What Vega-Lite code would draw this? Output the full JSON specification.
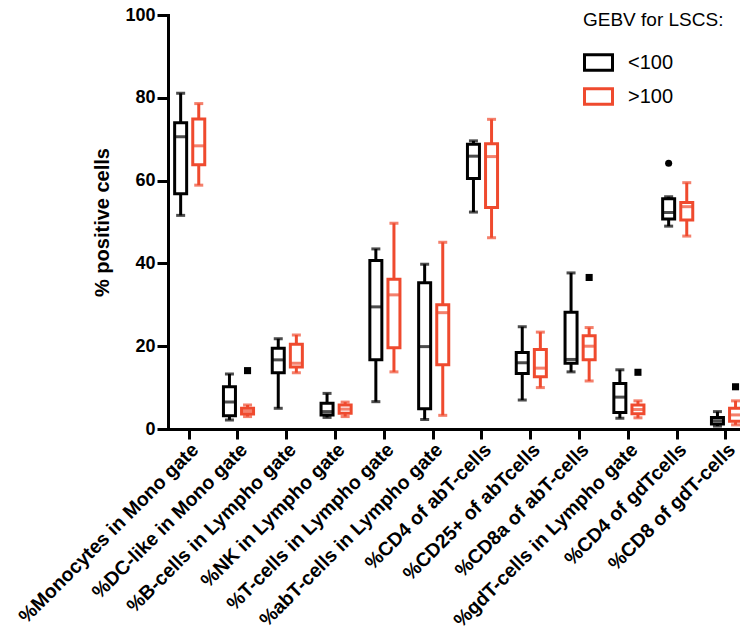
{
  "$schema": "https://vega.github.io/schema/vega-lite/v6.json",
  "autosize": {"type": "none"},
  "width": 572,
  "height": 414,
  "padding": {"left": 168, "top": 15, "right": 0, "bottom": 207},
  "config": {"view": {"stroke": null}, "font": "Liberation Sans"},
  "datasets": {
    "boxes": [
      {"cat": "%Monocytes in Mono gate", "group": "<100", "low": 51.6, "q1": 56.8, "med": 70.6, "q3": 74.0, "high": 81.1},
      {"cat": "%Monocytes in Mono gate", "group": ">100", "low": 58.9, "q1": 63.8, "med": 68.4, "q3": 74.9, "high": 78.6},
      {"cat": "%DC-like in Mono gate", "group": "<100", "low": 2.2, "q1": 3.2, "med": 6.5, "q3": 10.2, "high": 13.3},
      {"cat": "%DC-like in Mono gate", "group": ">100", "low": 3.0, "q1": 3.6, "med": 4.3, "q3": 5.0, "high": 5.8},
      {"cat": "%B-cells in Lympho gate", "group": "<100", "low": 5.0, "q1": 13.6, "med": 16.7, "q3": 19.5, "high": 21.8},
      {"cat": "%B-cells in Lympho gate", "group": ">100", "low": 13.6, "q1": 15.0, "med": 15.9, "q3": 20.5, "high": 22.7},
      {"cat": "%NK in Lympho gate", "group": "<100", "low": 2.8, "q1": 3.4, "med": 4.2, "q3": 6.2, "high": 8.6},
      {"cat": "%NK in Lympho gate", "group": ">100", "low": 3.0, "q1": 3.8, "med": 4.8, "q3": 5.8, "high": 6.5},
      {"cat": "%T-cells in Lympho gate", "group": "<100", "low": 6.6, "q1": 16.7, "med": 29.5, "q3": 40.7, "high": 43.5},
      {"cat": "%T-cells in Lympho gate", "group": ">100", "low": 13.8, "q1": 19.6, "med": 32.4, "q3": 36.2, "high": 49.7},
      {"cat": "%abT-cells in Lympho gate", "group": "<100", "low": 2.3, "q1": 4.9, "med": 19.9, "q3": 35.3, "high": 39.8},
      {"cat": "%abT-cells in Lympho gate", "group": ">100", "low": 3.3, "q1": 15.5, "med": 28.1, "q3": 30.0, "high": 45.1},
      {"cat": "%CD4 of abT-cells", "group": "<100", "low": 52.4, "q1": 60.5, "med": 65.9, "q3": 68.8, "high": 69.6},
      {"cat": "%CD4 of abT-cells", "group": ">100", "low": 46.2, "q1": 53.5, "med": 65.8, "q3": 68.9, "high": 74.8},
      {"cat": "%CD25+ of abTcells", "group": "<100", "low": 7.0, "q1": 13.4, "med": 16.0, "q3": 18.5, "high": 24.7},
      {"cat": "%CD25+ of abTcells", "group": ">100", "low": 10.0, "q1": 12.6, "med": 14.7, "q3": 19.2, "high": 23.4},
      {"cat": "%CD8a of abT-cells", "group": "<100", "low": 13.8, "q1": 15.9, "med": 16.8, "q3": 28.2, "high": 37.7},
      {"cat": "%CD8a of abT-cells", "group": ">100", "low": 11.6, "q1": 16.7, "med": 20.0, "q3": 22.5, "high": 24.5},
      {"cat": "%gdT-cells in Lympho gate", "group": "<100", "low": 2.6, "q1": 4.0, "med": 7.7, "q3": 11.0, "high": 14.3},
      {"cat": "%gdT-cells in Lympho gate", "group": ">100", "low": 2.7, "q1": 3.7, "med": 4.7, "q3": 5.8, "high": 6.8},
      {"cat": "%CD4 of gdTcells", "group": "<100", "low": 49.0, "q1": 50.7, "med": 52.3, "q3": 55.6, "high": 56.1},
      {"cat": "%CD4 of gdTcells", "group": ">100", "low": 46.6, "q1": 50.5, "med": 53.7, "q3": 54.7, "high": 59.5},
      {"cat": "%CD8 of gdT-cells", "group": "<100", "low": 0.7, "q1": 1.2, "med": 2.0, "q3": 2.8, "high": 4.2},
      {"cat": "%CD8 of gdT-cells", "group": ">100", "low": 1.0, "q1": 1.9, "med": 3.4, "q3": 5.0, "high": 6.8}
    ],
    "outliers": [
      {"cat": "%DC-like in Mono gate", "group": ">100", "value": 14.1},
      {"cat": "%CD8a of abT-cells", "group": ">100", "value": 36.6},
      {"cat": "%gdT-cells in Lympho gate", "group": ">100", "value": 13.7},
      {"cat": "%CD4 of gdTcells", "group": "<100", "value": 64.2},
      {"cat": "%CD8 of gdT-cells", "group": ">100", "value": 10.2}
    ]
  },
  "encoding": {
    "x": {
      "field": "cat",
      "type": "nominal",
      "scale": {
        "domain": ["%Monocytes in Mono gate", "%DC-like in Mono gate", "%B-cells in Lympho gate", "%NK in Lympho gate", "%T-cells in Lympho gate", "%abT-cells in Lympho gate", "%CD4 of abT-cells", "%CD25+ of abTcells", "%CD8a of abT-cells", "%gdT-cells in Lympho gate", "%CD4 of gdTcells", "%CD8 of gdT-cells"],
        "range": [-3.4, 582.2],
        "paddingInner": 0,
        "paddingOuter": 0
      },
      "axis": {
        "title": null,
        "labelAngle": -45,
        "labelFontSize": 19.5,
        "labelFontWeight": "bold",
        "labelColor": "black",
        "labelLimit": 400,
        "domainColor": "black",
        "domainWidth": 3,
        "tickColor": "black",
        "tickWidth": 3,
        "tickSize": 10,
        "labelPadding": 1
      }
    },
    "xOffset": {
      "field": "group",
      "type": "nominal",
      "scale": {"domain": ["<100", ">100"], "range": [7, 43.2], "paddingInner": 0, "paddingOuter": 0}
    }
  },
  "layer": [
    {
      "data": {"name": "boxes"},
      "mark": {"type": "rule", "strokeWidth": 3},
      "encoding": {
        "y": {
          "field": "low",
          "type": "quantitative",
          "scale": {"domain": [0, 100], "nice": false},
          "axis": {
            "values": [0, 20, 40, 60, 80, 100],
            "title": "% positive cells",
            "titleFontSize": 20,
            "titleFontWeight": "bold",
            "titleColor": "black",
            "titlePadding": 12,
            "labelFontSize": 18,
            "labelFontWeight": "bold",
            "labelColor": "black",
            "labelPadding": 2,
            "domainColor": "black",
            "domainWidth": 3,
            "domainCap": "square",
            "tickColor": "black",
            "tickWidth": 3,
            "tickSize": 11,
            "grid": false
          }
        },
        "y2": {"field": "high"},
        "stroke": {
          "field": "group",
          "type": "nominal",
          "scale": {"domain": ["<100", ">100"], "range": ["#000000", "#EF4A2E"]},
          "legend": {
            "title": "GEBV for LSCS:",
            "orient": "none",
            "legendX": 415,
            "legendY": -4,
            "titleFontSize": 19,
            "titleFontWeight": "normal",
            "titleColor": "black",
            "titlePadding": 17,
            "labelFontSize": 20,
            "labelColor": "black",
            "labelOffset": 14,
            "rowPadding": 4,
            "symbolType": "M-1,-0.55H1V0.55H-1Z",
            "symbolSize": 784,
            "symbolStrokeWidth": 3,
            "symbolFillColor": "white"
          }
        }
      }
    },
    {
      "data": {"name": "boxes"},
      "mark": {"type": "bar", "fill": "white", "strokeWidth": 3, "width": 12},
      "encoding": {
        "y": {"field": "q1", "type": "quantitative"},
        "y2": {"field": "q3"},
        "stroke": {"field": "group", "type": "nominal"}
      }
    },
    {
      "data": {"name": "boxes"},
      "mark": {"type": "tick", "filled": false, "thickness": 0.01, "size": 10, "strokeWidth": 3},
      "encoding": {
        "y": {"field": "med", "type": "quantitative"},
        "stroke": {"field": "group", "type": "nominal"}
      }
    },
    {
      "data": {"name": "boxes"},
      "mark": {"type": "tick", "filled": false, "thickness": 0.01, "size": 6, "strokeWidth": 3},
      "encoding": {
        "y": {"field": "high", "type": "quantitative"},
        "stroke": {"field": "group", "type": "nominal"}
      }
    },
    {
      "data": {"name": "boxes"},
      "mark": {"type": "tick", "filled": false, "thickness": 0.01, "size": 6, "strokeWidth": 3},
      "encoding": {
        "y": {"field": "low", "type": "quantitative"},
        "stroke": {"field": "group", "type": "nominal"}
      }
    },
    {
      "data": {"name": "outliers"},
      "transform": [{"filter": "datum.group === '<100'"}],
      "mark": {"type": "point", "filled": true, "color": "black", "opacity": 1, "size": 50, "shape": "circle"},
      "encoding": {
        "y": {"field": "value", "type": "quantitative"}
      }
    },
    {
      "data": {"name": "outliers"},
      "transform": [{"filter": "datum.group === '>100'"}],
      "mark": {"type": "point", "filled": true, "color": "black", "opacity": 1, "size": 50, "shape": "square"},
      "encoding": {
        "y": {"field": "value", "type": "quantitative"}
      }
    }
  ]
}
